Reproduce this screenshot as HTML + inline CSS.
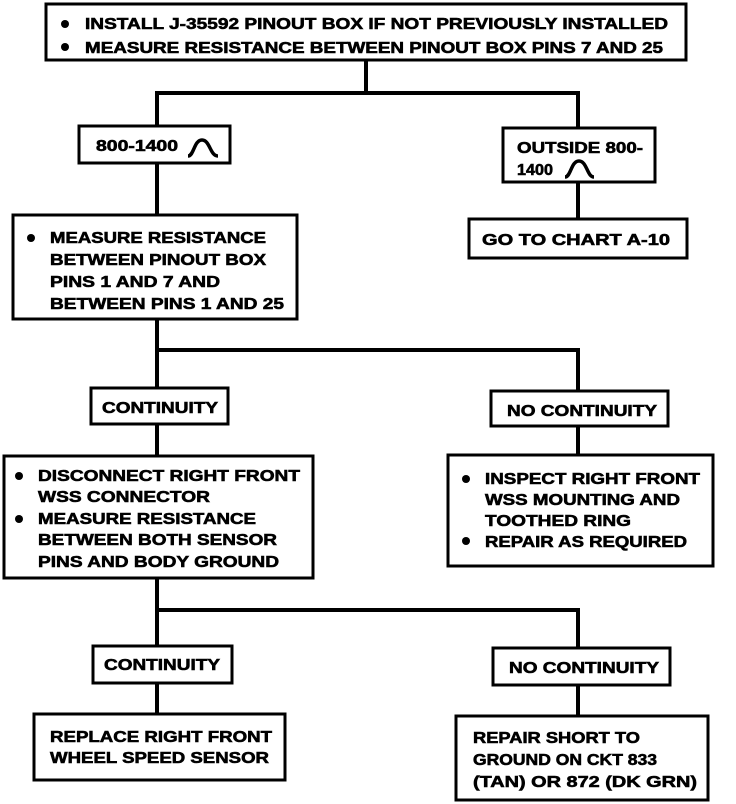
<!DOCTYPE html>
<html><head><meta charset="utf-8"><style>
html,body{margin:0;padding:0;background:#fff;}
svg{display:block;}
text{font-family:"Liberation Sans",sans-serif;font-weight:bold;font-size:16px;fill:#000;stroke:#000;stroke-width:0.6;}
</style></head><body>
<svg width="736" height="804" viewBox="0 0 736 804" xmlns="http://www.w3.org/2000/svg">
<g fill="none" stroke="#000" stroke-width="3">
<rect x="46" y="4" width="640" height="56"/>
<rect x="79" y="126" width="151" height="37"/>
<rect x="503" y="128" width="152" height="54"/>
<rect x="469" y="219" width="218" height="39"/>
<rect x="13" y="215" width="284" height="104"/>
<rect x="91" y="388" width="137" height="36"/>
<rect x="491" y="391" width="177" height="35"/>
<rect x="4" y="456" width="309" height="122"/>
<rect x="448" y="455" width="265" height="111"/>
<rect x="93" y="646" width="139" height="37"/>
<rect x="493" y="648" width="177" height="37"/>
<rect x="34" y="714" width="251" height="66"/>
<rect x="456" y="716" width="252" height="84"/>
</g>
<g fill="none" stroke="#000" stroke-width="4">
<path d="M366 60 V93 M157 93 H578 M157 91 V126 M578 91 V128 M578 182 V219 M157 163 V215"/>
<path d="M157 319 V350 M157 350 H578 M578 348 V391 M157 348 V388 M157 424 V456 M578 426 V455"/>
<path d="M157 578 V610 M157 610 H578 M578 608 V648 M157 608 V646 M157 683 V714 M578 685 V716"/>
<path d="M188 156 C194 156 194 140 202 140 C210 140 210 156 218 156" stroke-width="3.5"/>
<path d="M565 177 C571 177 571 161 579 161 C587 161 587 177 594 177" stroke-width="3.5"/>
</g>
<g fill="#000">
<circle cx="65" cy="24" r="4"/><circle cx="65" cy="47" r="4"/>
<circle cx="31" cy="238" r="4"/>
<circle cx="19" cy="476" r="4"/><circle cx="19" cy="519" r="4"/>
<circle cx="466" cy="479" r="4"/><circle cx="466" cy="541" r="4"/>
</g>
<text x="85" y="29" textLength="583" lengthAdjust="spacingAndGlyphs">INSTALL J-35592 PINOUT BOX IF NOT PREVIOUSLY INSTALLED</text>
<text x="85" y="53" textLength="578" lengthAdjust="spacingAndGlyphs">MEASURE RESISTANCE BETWEEN PINOUT BOX PINS 7 AND 25</text>
<text x="96" y="151" textLength="82" lengthAdjust="spacingAndGlyphs">800-1400</text>
<text x="517" y="153" textLength="126" lengthAdjust="spacingAndGlyphs">OUTSIDE 800-</text>
<text x="517" y="175" textLength="36" lengthAdjust="spacingAndGlyphs">1400</text>
<text x="482" y="245" textLength="188" lengthAdjust="spacingAndGlyphs">GO TO CHART A-10</text>
<text x="50" y="243" textLength="216" lengthAdjust="spacingAndGlyphs">MEASURE RESISTANCE</text>
<text x="50" y="265" textLength="216" lengthAdjust="spacingAndGlyphs">BETWEEN PINOUT BOX</text>
<text x="50" y="287" textLength="170" lengthAdjust="spacingAndGlyphs">PINS 1 AND 7 AND</text>
<text x="50" y="309" textLength="234" lengthAdjust="spacingAndGlyphs">BETWEEN PINS 1 AND 25</text>
<text x="102" y="413" textLength="116" lengthAdjust="spacingAndGlyphs">CONTINUITY</text>
<text x="507" y="416" textLength="150" lengthAdjust="spacingAndGlyphs">NO CONTINUITY</text>
<text x="38" y="481" textLength="262" lengthAdjust="spacingAndGlyphs">DISCONNECT RIGHT FRONT</text>
<text x="38" y="502" textLength="172" lengthAdjust="spacingAndGlyphs">WSS CONNECTOR</text>
<text x="38" y="524" textLength="218" lengthAdjust="spacingAndGlyphs">MEASURE RESISTANCE</text>
<text x="38" y="545" textLength="239" lengthAdjust="spacingAndGlyphs">BETWEEN BOTH SENSOR</text>
<text x="38" y="567" textLength="241" lengthAdjust="spacingAndGlyphs">PINS AND BODY GROUND</text>
<text x="485" y="484" textLength="215" lengthAdjust="spacingAndGlyphs">INSPECT RIGHT FRONT</text>
<text x="485" y="505" textLength="195" lengthAdjust="spacingAndGlyphs">WSS MOUNTING AND</text>
<text x="485" y="526" textLength="146" lengthAdjust="spacingAndGlyphs">TOOTHED RING</text>
<text x="485" y="547" textLength="202" lengthAdjust="spacingAndGlyphs">REPAIR AS REQUIRED</text>
<text x="104" y="670" textLength="116" lengthAdjust="spacingAndGlyphs">CONTINUITY</text>
<text x="509" y="673" textLength="150" lengthAdjust="spacingAndGlyphs">NO CONTINUITY</text>
<text x="50" y="742" textLength="222" lengthAdjust="spacingAndGlyphs">REPLACE RIGHT FRONT</text>
<text x="50" y="763" textLength="219" lengthAdjust="spacingAndGlyphs">WHEEL SPEED SENSOR</text>
<text x="473" y="743" textLength="167" lengthAdjust="spacingAndGlyphs">REPAIR SHORT TO</text>
<text x="473" y="765" textLength="184" lengthAdjust="spacingAndGlyphs">GROUND ON CKT 833</text>
<text x="473" y="787" textLength="224" lengthAdjust="spacingAndGlyphs">(TAN) OR 872 (DK GRN)</text>
</svg>
</body></html>
